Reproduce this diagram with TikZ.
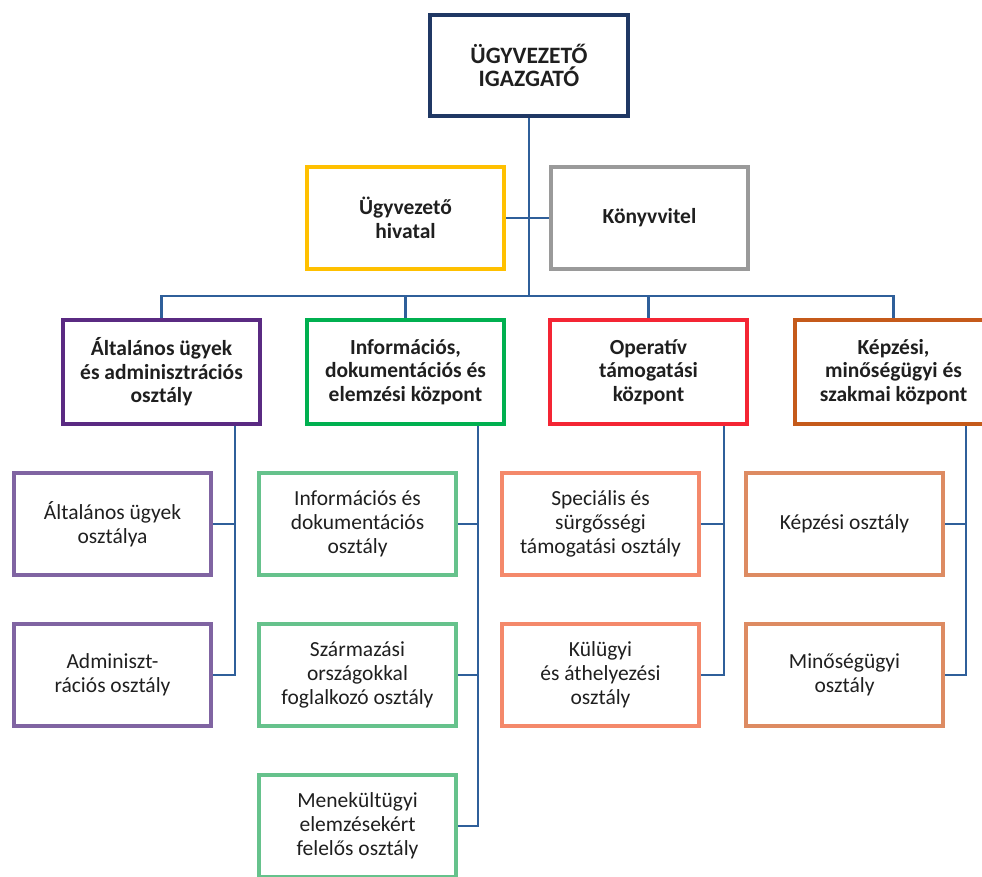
\documentclass[tikz,border=0pt]{standalone}
\usepackage{fontspec}
\setmainfont{Carlito}
\usepackage{tikz}
\usetikzlibrary{positioning}

\definecolor{navy}{HTML}{203864}
\definecolor{gold}{HTML}{FFC000}
\definecolor{grey}{HTML}{9A9A9A}
\definecolor{violet}{HTML}{5A2A82}
\definecolor{grass}{HTML}{00B050}
\definecolor{scarlet}{HTML}{F42534}
\definecolor{rust}{HTML}{C55A1A}
\definecolor{lilac}{HTML}{8064A2}
\definecolor{mint}{HTML}{66C28C}
\definecolor{salmon}{HTML}{F4896B}
\definecolor{tan}{HTML}{DD8B62}
\definecolor{wire}{HTML}{2F5F9A}

\tikzset{
  unit/.style={shape=rectangle,draw,line width=4pt,minimum width=197pt,minimum height=102pt,
    align=center,inner sep=2pt,text=black!88},
  head/.style={unit,font=\fontsize{21.5}{23.5}\selectfont\bfseries},
  dept/.style={unit,font=\fontsize{21.5}{24}\selectfont},
  wire/.style={draw=wire,line width=2.6pt}
}

\begin{document}
\begin{tikzpicture}[x=1pt,y=-1pt]
\useasboundingbox (0,0) rectangle (982,876);

\node[head,draw=navy,minimum width=198pt,minimum height=101pt,font=\fontsize{23.5}{23.5}\selectfont\bfseries] (ig) at (529,65.5){ÜGYVEZETŐ\\IGAZGATÓ};
\node[head,draw=gold] (hiv) at (405.5,218){Ügyvezető\\hivatal};
\node[head,draw=grey] (kv) at (649.5,218){Könyvvitel};

\node[head,draw=violet,minimum height=104pt] (alt) at (161.5,372){Általános ügyek\\és adminisztrációs\\osztály};
\node[head,draw=grass,minimum height=104pt] (inf) at (405.5,372){Információs,\\dokumentációs és\\elemzési központ};
\node[head,draw=scarlet,minimum height=104pt] (op) at (648.5,372){Operatív\\támogatási\\központ};
\node[head,draw=rust,minimum height=104pt] (kep) at (893.5,372){Képzési,\\minőségügyi és\\szakmai központ};

\node[dept,draw=lilac] (alt1) at (112.5,524){Általános ügyek\\osztálya};
\node[dept,draw=lilac] (alt2) at (112.5,675){Adminiszt-\\rációs osztály};
\node[dept,draw=mint] (inf1) at (357.5,524){Információs és\\dokumentációs\\osztály};
\node[dept,draw=mint] (inf2) at (357.5,675){Származási\\országokkal\\foglalkozó osztály};
\node[dept,draw=mint] (inf3) at (357.5,826){Menekültügyi\\elemzésekért\\felelős osztály};
\node[dept,draw=salmon] (op1) at (600.5,524){Speciális és\\sürgősségi\\támogatási osztály};
\node[dept,draw=salmon] (op2) at (600.5,675){Külügyi\\és áthelyezési\\osztály};
\node[dept,draw=tan] (kep1) at (844.5,524){Képzési osztály};
\node[dept,draw=tan] (kep2) at (844.5,675){Minőségügyi\\osztály};

\coordinate (bar) at (529,296);
\draw[wire] (ig.south) -- (bar);
\draw[wire] (hiv.east) -- (kv.west);
\draw[wire] (alt.north) -- (alt.north |- bar) -- (kep.north |- bar) -- (kep.north);
\draw[wire] (inf.north) -- (inf.north |- bar);
\draw[wire] (op.north) -- (op.north |- bar);

\draw[wire] ([xshift=73.5pt]alt.south) |- (alt1.east);
\draw[wire] ([xshift=73.5pt]alt.south) |- (alt2.east);
\draw[wire] ([xshift=72.5pt]inf.south) |- (inf1.east);
\draw[wire] ([xshift=72.5pt]inf.south) |- (inf2.east);
\draw[wire] ([xshift=72.5pt]inf.south) |- (inf3.east);
\draw[wire] ([xshift=75.5pt]op.south) |- (op1.east);
\draw[wire] ([xshift=75.5pt]op.south) |- (op2.east);
\draw[wire] ([xshift=72.5pt]kep.south) |- (kep1.east);
\draw[wire] ([xshift=72.5pt]kep.south) |- (kep2.east);

\end{tikzpicture}
\end{document}
